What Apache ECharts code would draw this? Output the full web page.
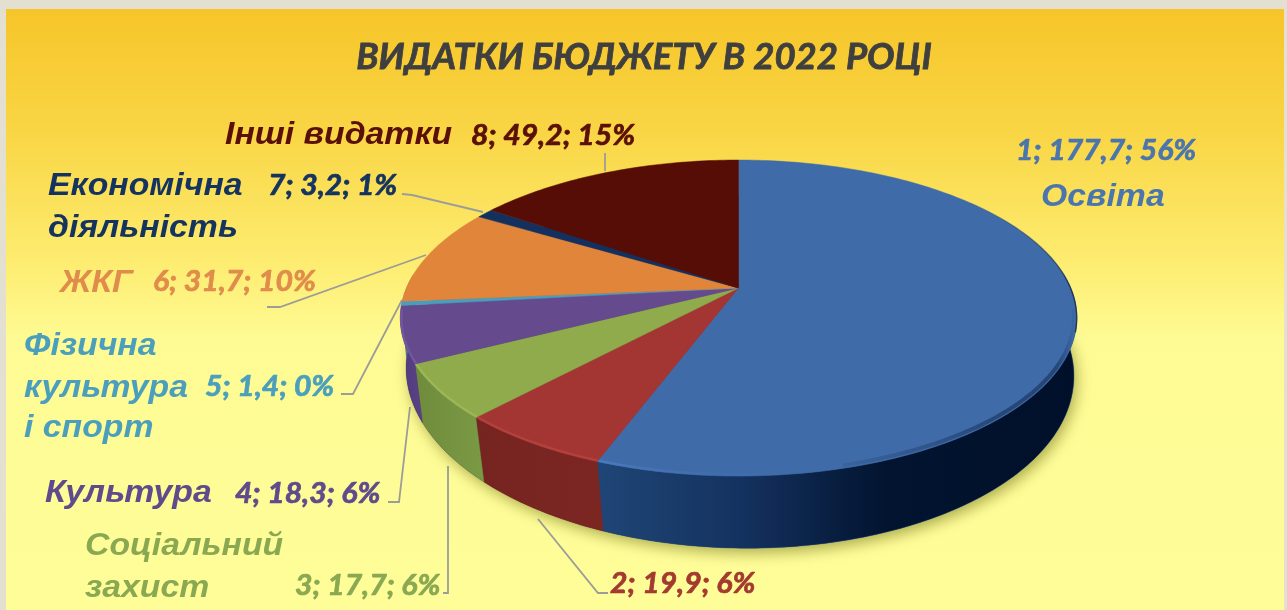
<!DOCTYPE html>
<html><head><meta charset="utf-8">
<style>html,body{margin:0;padding:0;background:#e3e0d2}#c{width:1287px;height:610px}</style>
<script src="https://cdn.jsdelivr.net/npm/echarts@6/dist/echarts.min.js"></script></head>
<body><div id="c"></div><script>
const titleText = 'ВИДАТКИ БЮДЖЕТУ В 2022 РОЦІ';
const categories = ['Освіта','','Соціальний захист','Культура','Фізична культура і спорт','ЖКГ','Економічна діяльність','Інші видатки'];
const seriesIds = [1,2,3,4,5,6,7,8];
const values = [177.7,19.9,17.7,18.3,1.4,31.7,3.2,49.2];
const percents = [56,6,6,6,0,10,1,15];
const topColors = ['#3f6ca9','#a33632','#8fab4b','#654a8d','#4a9dbd','#e0853a','#14305f','#560d05'];
const textColors = ['#4a75ad','#a33a30','#8aa852','#5f4a8c','#4b9fbc','#e08c4c','#14345f','#5a1008'];
const rimColors = ['#4f80c8','#bb4641','#a2be5a','#7a5ca8','#5ab0d0','#f09a50','#1f4070','#701a10'];
const wallStops = [
 [[0,'#1f4677'],[0.3,'#14325f'],[0.6,'#021430'],[1,'#01102a']],
 [[0,'#762420'],[1,'#7c2622']],
 [[0,'#6f8b3d'],[1,'#7b9a44']],
 [[0,'#4f3a7a'],[1,'#5c4288']],
 [[0,'#3c7f98'],[1,'#3c7f98']],
 [[0,'#b06a2c'],[1,'#b06a2c']],
 [[0,'#102648'],[1,'#102648']],
 [[0,'#450a04'],[1,'#450a04']]
];
const total = values.reduce((a,b)=>a+b,0);
const startShare = []; values.reduce((a,v,i)=>(startShare[i]=a,a+v),0);

// perspective disk projection: apex, half-axes, perspective factor, tilt
const topDisk = {cx:738.5, cy:288, a:332, b:152.3, p:0.19, k:0};
const baseDisk = {cx:740, cy:342, a:329, b:171, p:0.1705, k:0.012};
function proj(d,deg){const t=deg*Math.PI/180,x=Math.sin(t),y=Math.cos(t),s=1+d.p*y,u=d.a*x/s;
  return [d.cx+u, d.cy-d.b*y/s+d.k*u];}
function arc(d,from,to){const pts=[];const n=Math.max(2,Math.ceil(Math.abs(to-from)));
  for(let i=0;i<=n;i++)pts.push(proj(d,from+(to-from)*i/n));return pts;}
function angles(i){return [startShare[i]/total*360,(startShare[i]+values[i])/total*360];}
const seriesText = i => `${seriesIds[i]}; ${String(values[i]).replace('.',',')}; ${percents[i]}%`;

const wallItem = (params,api)=>{
  const i=params.dataIndex; let [s,e]=angles(i);
  s=Math.max(s,85); e=Math.min(e,275);
  if(e<=s) return {type:'group',children:[]};
  const pts=arc(topDisk,s,e).concat(arc(baseDisk,e,s));
  const xs=pts.map(p=>p[0]);const x0=Math.min(...xs),x1=Math.max(...xs);
  return {type:'polygon',shape:{points:pts},style:{
    fill:{type:'linear',x:x0,y:0,x2:x1,y2:0,global:true,colorStops:wallStops[i].map(c=>({offset:c[0],color:c[1]}))},
    stroke:wallStops[i][0][1],lineWidth:0.4}};
};
const topItem = (params,api)=>{
  const i=params.dataIndex; const [s,e]=angles(i);
  const children=[{type:'polygon',shape:{points:[[topDisk.cx,topDisk.cy]].concat(arc(topDisk,s,e))},
    style:{fill:topColors[i],stroke:topColors[i],lineWidth:0.5}}];
  const rs=Math.max(s,128), re=Math.min(e,262);
  if(re>rs){
    const pts=arc({...topDisk,a:topDisk.a-1,b:topDisk.b-1},rs,re);
    children.push({type:'polyline',shape:{points:pts},style:{fill:null,lineWidth:2.5,opacity:0.65,
      stroke: i===0?{type:'linear',x:600,y:0,x2:800,y2:0,global:true,colorStops:[{offset:0,color:rimColors[0]},{offset:1,color:'rgba(63,108,169,0)'}]}:rimColors[i]}});
  }
  if(i===0){
    children.push({type:'polyline',shape:{points:arc(topDisk,48,106)},style:{fill:null,lineWidth:1.5,
      stroke:{type:'linear',x:0,y:195,x2:0,y2:290,global:true,colorStops:[{offset:0,color:'rgba(26,47,82,0)'},{offset:1,color:'rgba(26,47,82,0.85)'}]}}});
    children.push({type:'polyline',shape:{points:arc({...topDisk,a:topDisk.a-2.5,b:topDisk.b-2.5},98,165)},style:{fill:null,lineWidth:4,
      stroke:{type:'linear',x:790,y:0,x2:1076,y2:0,global:true,colorStops:[{offset:0,color:'rgba(26,53,96,0)'},{offset:0.75,color:'rgba(20,45,85,0.6)'},{offset:0.93,color:'rgba(20,45,85,0.6)'},{offset:1,color:'rgba(20,45,85,0)'}]}}});
  }
  return {type:'group',children};
};
const shadowItem = ()=>({type:'polygon',shape:{points:arc(baseDisk,0,360)},
  style:{fill:'#4a3a70',shadowBlur:14,shadowOffsetX:3,shadowOffsetY:5,shadowColor:'rgba(110,110,20,0.55)'}});

const F1='"Liberation Sans"', F2='Lato,"Open Sans"';
const nameLabels=[
 ['Освіта',1041,197,0],['Інші видатки',225,135,7],['Економічна',48,186,6],['діяльність',48,228,6],['ЖКГ',60,283,5],
 ['Фізична',24,346,4],['культура',24,388,4],['і спорт',24,428,4],['Культура',45,493,3],['Соціальний',85,546,2],['захист',85,588,2]];
const dataLabels=[[0,1016,151],[1,610,584],[2,295,586],[3,235,494],[4,205,387],[5,153,282],[6,268,186],[7,471,136]];
const leaders=[
 [[605,153],[605,171]],
 [[402,194],[412,195],[483,212]],
 [[267,307],[280,307],[426,255]],
 [[341,394],[353,394],[402,300]],
 [[388,502],[399,502],[410,407]],
 [[443,593],[448,593],[448,466]],
 [[608,593],[598,593],[538,519]]];
const graphics=[{type:'rect',z:-10,shape:{x:6,y:9,width:1278,height:601},style:{
  fill:{type:'linear',x:0,y:9,x2:0,y2:610,global:true,colorStops:[
   {offset:0,color:'#f6c529'},{offset:0.2,color:'#f9d544'},{offset:0.42,color:'#fdec70'},{offset:0.55,color:'#fefb94'},{offset:1,color:'#fefd98'}]}}}];
leaders.forEach(pts=>graphics.push({type:'polyline',shape:{points:pts},style:{fill:null,stroke:'#9c9c98',lineWidth:1.8}}));
nameLabels.forEach(([t,x,y,c])=>graphics.push({type:'text',z:5,x,y,scaleX:1.09,style:{text:t,x:0,y:0,fill:textColors[c],font:`italic bold 31px ${F1}`,verticalAlign:'middle',textAlign:'left'}}));
dataLabels.forEach(([i,x,y])=>graphics.push({type:'text',z:5,x,y,scaleX:1.075,style:{text:seriesText(i),x:0,y:0,fill:textColors[i],stroke:textColors[i],lineWidth:0.7,font:`italic bold 28px ${F2}`,verticalAlign:'middle',textAlign:'left'}}));

const chart=echarts.init(document.getElementById('c'),null,{renderer:'canvas'});
const rows=values.map((v,i)=>[v,categories[i]]);
chart.setOption({animation:false,backgroundColor:'#e3e0d2',
  title:{text:titleText,left:644,textAlign:'center',top:39,padding:0,itemGap:0,
    textStyle:{fontFamily:'Lato,"Open Sans"',fontWeight:'bold',fontStyle:'italic',fontSize:36.5,color:'#3f3f3f',textBorderColor:'#3f3f3f',textBorderWidth:0.8},},
  graphic:{elements:graphics},
  series:[
   {type:'custom',coordinateSystem:'none',silent:true,z:1,data:[[total]],renderItem:shadowItem},
   {type:'custom',coordinateSystem:'none',silent:true,z:2,data:rows,renderItem:wallItem},
   {type:'custom',coordinateSystem:'none',silent:true,z:3,data:rows,renderItem:topItem}
  ]});
</script></body></html>
